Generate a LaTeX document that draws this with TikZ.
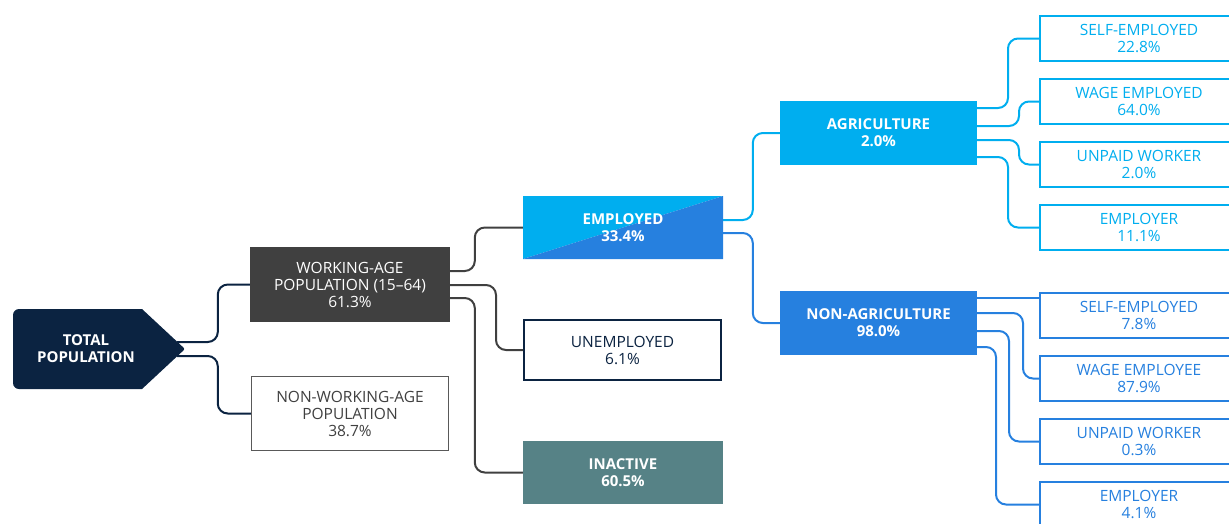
\documentclass[tikz,border=0pt]{standalone}
\usepackage{fontspec}
\setmainfont{Open Sans}
\usetikzlibrary{calc}
\definecolor{navy}{HTML}{0B2341}
\definecolor{wagray}{HTML}{404040}
\definecolor{nwgray}{HTML}{595959}
\definecolor{cyanb}{HTML}{00AEEF}
\definecolor{blueb}{HTML}{2680DF}
\definecolor{teal}{HTML}{568286}
\tikzset{
  txt/.style={align=center, inner sep=0pt, font=\fontsize{15.5}{17}\selectfont},
  fbox/.style={txt, rectangle, text=white, font=\fontsize{15}{17}\selectfont\bfseries},
  obox/.style={txt, rectangle, draw, fill=white, line width=2pt},
  leaf/.style={obox, minimum width=198, minimum height=45},
  conn/.style={line width=2pt, rounded corners=10pt},
}
\begin{document}
\begin{tikzpicture}[x=1pt,y=-1pt]
\useasboundingbox (0,0) rectangle (1229,523);
\clip (0,0) rectangle (1229,523);

% nodes
\coordinate (tptip) at (185,349);
\coordinate (tp) at (86,349);

\node[txt, text=white, fill=wagray, minimum width=200, minimum height=75] (wa) at (350,284.5) {WORKING-AGE\\POPULATION (15–64)\\61.3\%};
\node[obox, draw=nwgray, line width=1.5pt, text=wagray, minimum width=197, minimum height=74] (nwa) at (350,413.5) {NON-WORKING-AGE\\POPULATION\\38.7\%};

\node[fbox, minimum width=200, minimum height=63,
  path picture={
    \fill[cyanb] (path picture bounding box.south west) -- (path picture bounding box.north west) -- (path picture bounding box.north east) -- cycle;
    \fill[blueb] (path picture bounding box.south west) -- (path picture bounding box.north east) -- (path picture bounding box.south east) -- cycle;
  }] (emp) at (623,227.5) {EMPLOYED\\33.4\%};
\node[obox, draw=navy, text=navy, minimum width=197, minimum height=60] (unemp) at (622.5,350) {UNEMPLOYED\\6.1\%};
\node[fbox, fill=teal, minimum width=200, minimum height=63] (inact) at (623,472.5) {INACTIVE\\60.5\%};

\node[fbox, fill=cyanb, minimum width=197, minimum height=64] (agri) at (878.5,133) {AGRICULTURE\\2.0\%};
\node[fbox, fill=blueb, minimum width=197, minimum height=64] (nonag) at (878.5,323) {NON-AGRICULTURE\\98.0\%};

\node[leaf, draw=cyanb, text=cyanb] (a1) at (1139,38.5) {SELF-EMPLOYED\\22.8\%};
\node[leaf, draw=cyanb, text=cyanb] (a2) at (1139,101.5) {WAGE EMPLOYED\\64.0\%};
\node[leaf, draw=cyanb, text=cyanb] (a3) at (1139,164.5) {UNPAID WORKER\\2.0\%};
\node[leaf, draw=cyanb, text=cyanb] (a4) at (1139,227.5) {EMPLOYER\\11.1\%};

\node[leaf, draw=blueb, text=blueb] (n1) at (1139,315.5) {SELF-EMPLOYED\\7.8\%};
\node[leaf, draw=blueb, text=blueb] (n2) at (1139,378.5) {WAGE EMPLOYEE\\87.9\%};
\node[leaf, draw=blueb, text=blueb] (n3) at (1139,441.5) {UNPAID WORKER\\0.3\%};
\node[leaf, draw=blueb, text=blueb] (n4) at (1139,504.5) {EMPLOYER\\4.1\%};

% connectors
\draw[conn, navy] ([shift={(-8,-7)}]tptip) -| ([xshift=-32]wa.west) -- (wa.west);
\draw[conn, navy] ([shift={(-8,7)}]tptip) -| ([xshift=-33]nwa.west) -- (nwa.west);

\draw[conn, wagray] ([shift={(0,-13.5)}]wa.east) -| ([xshift=-48]emp.west) -- (emp.west);
\draw[conn, wagray] ([shift={(0,0.5)}]wa.east) -| ([xshift=-27]unemp.west) -- (unemp.west);
\draw[conn, wagray] ([shift={(0,13.5)}]wa.east) -| ([xshift=-48]inact.west) -- (inact.west);

\draw[conn, cyanb] ([shift={(0,-7.5)}]emp.east) -| ([xshift=-27]agri.west) -- (agri.west);
\draw[conn, blueb] ([shift={(0,5.5)}]emp.east) -| ([xshift=-27]nonag.west) -- (nonag.west);

\draw[conn, cyanb] ([shift={(0,-25)}]agri.east) -| ([xshift=-31]a1.west) -- (a1.west);
\draw[conn, cyanb] ([shift={(0,-7)}]agri.east) -| ([xshift=-20]a2.west) -- (a2.west);
\draw[conn, cyanb] ([shift={(0,7)}]agri.east) -| ([xshift=-20]a3.west) -- (a3.west);
\draw[conn, cyanb] ([shift={(0,24)}]agri.east) -| ([xshift=-31]a4.west) -- (a4.west);

\coordinate (ns1) at ([shift={(0,-25)}]nonag.east);
\draw[conn, blueb] (ns1) -- (ns1 -| n1.west);
\draw[conn, blueb] ([shift={(0,-10)}]nonag.east) -| ([xshift=-16]n2.west) -- (n2.west);
\draw[conn, blueb] ([shift={(0,8)}]nonag.east) -| ([xshift=-30]n3.west) -- (n3.west);
\draw[conn, blueb] ([shift={(0,24)}]nonag.east) -| ([xshift=-43]n4.west) -- (n4.west);

% total population shape (drawn over connector starts)
\fill[navy] (142,309) [rounded corners=2pt] -- (185,349) [sharp corners] -- (142,389) [rounded corners=6pt] -- (13,389) -- (13,309) [sharp corners] -- cycle;
\node[fbox, text=white] (tplabel) at (tp) {TOTAL\\POPULATION};
\end{tikzpicture}
\end{document}
